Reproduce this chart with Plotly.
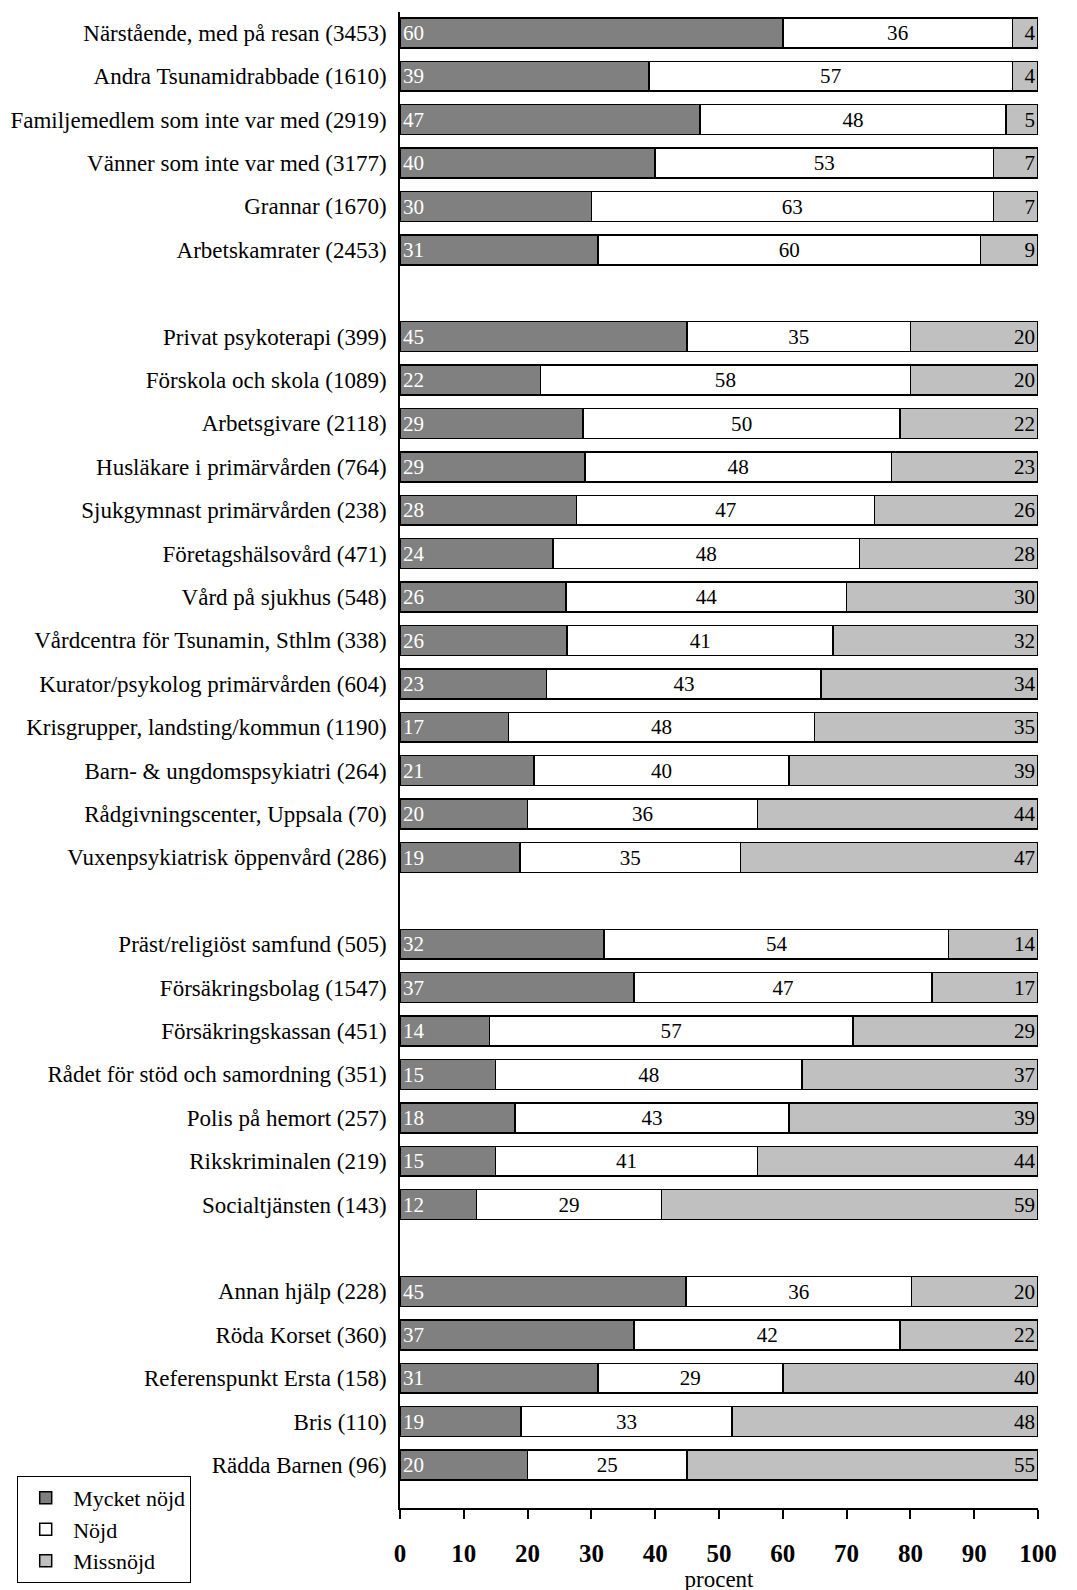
import plotly.graph_objects as go

groups = [
    ["Närstående, med på resan (3453)", "Andra Tsunamidrabbade (1610)",
     "Familjemedlem som inte var med (2919)", "Vänner som inte var med (3177)",
     "Grannar (1670)", "Arbetskamrater (2453)"],
    ["Privat psykoterapi (399)", "Förskola och skola (1089)", "Arbetsgivare (2118)",
     "Husläkare i primärvården (764)", "Sjukgymnast primärvården (238)",
     "Företagshälsovård (471)", "Vård på sjukhus (548)",
     "Vårdcentra för Tsunamin, Sthlm (338)", "Kurator/psykolog primärvården (604)",
     "Krisgrupper, landsting/kommun (1190)", "Barn- & ungdomspsykiatri (264)",
     "Rådgivningscenter, Uppsala (70)", "Vuxenpsykiatrisk öppenvård (286)"],
    ["Präst/religiöst samfund (505)", "Försäkringsbolag (1547)", "Försäkringskassan (451)",
     "Rådet för stöd och samordning (351)", "Polis på hemort (257)",
     "Rikskriminalen (219)", "Socialtjänsten (143)"],
    ["Annan hjälp (228)", "Röda Korset (360)", "Referenspunkt Ersta (158)",
     "Bris (110)", "Rädda Barnen (96)"],
]

# printed labels
mycket_lbl = [60, 39, 47, 40, 30, 31,
              45, 22, 29, 29, 28, 24, 26, 26, 23, 17, 21, 20, 19,
              32, 37, 14, 15, 18, 15, 12,
              45, 37, 31, 19, 20]
nojd_lbl = [36, 57, 48, 53, 63, 60,
            35, 58, 50, 48, 47, 48, 44, 41, 43, 48, 40, 36, 35,
            54, 47, 57, 48, 43, 41, 29,
            36, 42, 29, 33, 25]
miss_lbl = [4, 4, 5, 7, 7, 9,
            20, 20, 22, 23, 26, 28, 30, 32, 34, 35, 39, 44, 47,
            14, 17, 29, 37, 39, 44, 59,
            20, 22, 40, 48, 55]

# bar lengths (unrounded where visible)
mycket = [60, 39, 47, 40, 30, 31,
          45, 22, 28.7, 29, 27.7, 24, 26, 26.2, 23, 17, 21, 20, 18.8,
          32, 36.7, 14, 15, 18, 15, 12,
          44.8, 36.7, 31, 19, 20]
nojd = [36, 57, 48, 53, 63, 60,
        35, 58, 49.7, 48, 46.7, 48, 44, 41.7, 43, 48, 40, 36, 34.6,
        54, 46.7, 57, 48, 43, 41, 29,
        35.4, 41.7, 29, 33, 25]
missnojd = [4, 4, 5, 7, 7, 9,
            20, 20, 21.6, 23, 25.6, 28, 30, 32.1, 34, 35, 39, 44, 46.6,
            14, 16.6, 29, 37, 39, 44, 59,
            19.8, 21.6, 40, 48, 55]

categories = []
ypos = []
slot = 0
for g in groups:
    for c in g:
        categories.append(c)
        ypos.append(slot)
        slot += 1
    slot += 1

FONT = "Liberation Serif"
line = dict(color="black", width=1.5)

fig = go.Figure()
fig.add_trace(go.Bar(
    y=ypos, x=mycket, orientation="h", name="Mycket nöjd",
    marker=dict(color="#808080", line=line),
    text=[str(v) for v in mycket_lbl], textposition="inside",
    insidetextanchor="start", textangle=0,
    textfont=dict(family=FONT, size=22, color="white"),
))
fig.add_trace(go.Bar(
    y=ypos, x=nojd, orientation="h", name="Nöjd",
    marker=dict(color="white", line=line),
    text=[str(v) for v in nojd_lbl], textposition="inside",
    insidetextanchor="middle", textangle=0,
    textfont=dict(family=FONT, size=22, color="black"),
))
fig.add_trace(go.Bar(
    y=ypos, x=missnojd, orientation="h", name="Missnöjd",
    marker=dict(color="#c0c0c0", line=line),
    text=[str(v) for v in miss_lbl], textposition="inside",
    insidetextanchor="end", textangle=0,
    textfont=dict(family=FONT, size=22, color="black"),
))

fig.update_layout(
    barmode="stack",
    bargap=0.31,
    width=1069, height=1590,
    margin=dict(l=392, r=39, t=4, b=90, pad=0, autoexpand=False),
    paper_bgcolor="white", plot_bgcolor="white",
    font=dict(family=FONT, size=22, color="black"),
    legend=dict(
        x=-0.600, y=0.0215, xanchor="left", yanchor="top",
        bordercolor="black", borderwidth=1, bgcolor="white",
        font=dict(family=FONT, size=22, color="black"),
        traceorder="normal", itemwidth=45, tracegroupgap=0,
    ),
    showlegend=True,
)
fig.update_xaxes(
    range=[0, 100], tickvals=[0, 10, 20, 30, 40, 50, 60, 70, 80, 90, 100],
    ticks="outside", ticklen=9, tickcolor="black", tickwidth=1.5,
    showline=True, linecolor="black", linewidth=1.5,
    showgrid=False, zeroline=False, automargin=False,
    tickfont=dict(family=FONT, size=25, color="black", weight="bold"),
    ticklabelstandoff=13,
    title=dict(text="procent", font=dict(family=FONT, size=23), standoff=1),
)
fig.update_yaxes(
    range=[33.99, -0.48], tickvals=ypos, ticktext=categories,
    ticks="", showline=True, linecolor="black", linewidth=1.5,
    showgrid=False, zeroline=False, automargin=False,
    tickfont=dict(family=FONT, size=23, color="black"),
    ticklabelstandoff=7,
)

fig.write_html("out.html", config={"displayModeBar": False})
